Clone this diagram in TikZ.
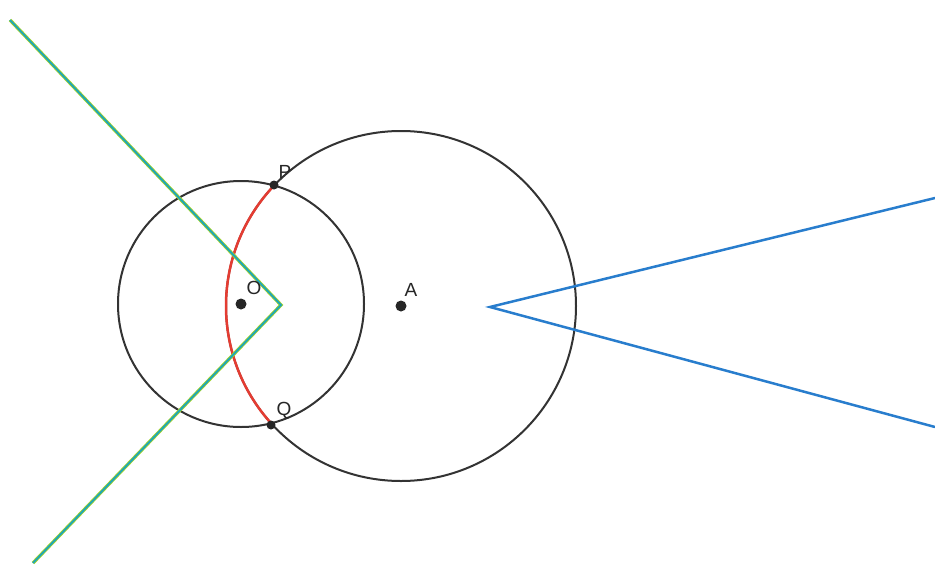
\documentclass[tikz,border=0pt]{standalone}
\usepackage{fontspec}
\setmainfont{Liberation Sans}
\begin{document}
\begin{tikzpicture}[x=1pt,y=1pt,
  circ/.style={draw=black!80, line width=2pt},
  dotpt/.style={circle, fill=black!85, inner sep=0pt, minimum size=11pt},
  lab/.style={font=\fontsize{19}{22}\selectfont, text=black!85},
  greenray/.style={draw={rgb,255:red,160;green,210;blue,40}, line width=3.4pt},
  tealray/.style={draw={rgb,255:red,30;green,165;blue,185}, line width=1.8pt},
  blueray/.style={draw={rgb,255:red,40;green,125;blue,205}, line width=2.5pt},
  redarc/.style={draw={rgb,255:red,228;green,60;blue,50}, line width=2.5pt}]
\useasboundingbox (0,0) rectangle (935,-568);
\fill[white] (0,0) rectangle (935,-568);
% centers
\coordinate (O) at (241,-304);
\coordinate (A) at (401,-306);
% circles
\draw[circ] (O) circle[radius=123];
\draw[circ] (A) circle[radius=175];
% red arc: part of big circle inside small circle
\begin{scope}
  \clip (O) circle[radius=123];
  \draw[redarc] (A) circle[radius=175];
\end{scope}
% green angle
\coordinate (V1) at (281,-305);
\coordinate (G1) at (10,-20);
\coordinate (G2) at (33,-563);
\draw[greenray, line join=miter] (G1) -- (V1) -- (G2);
\draw[tealray, line join=miter] (G1) -- (V1) -- (G2);
% blue angle
\coordinate (V2) at (490,-307);
\coordinate (B1) at (935,-198);
\coordinate (B2) at (935,-427);
\draw[blueray, line join=miter] (B1) -- (V2) -- (B2);
% points
\node[dotpt] (Od) at (O) {};
\node[dotpt] (Ad) at (A) {};
\node[dotpt, minimum size=9pt] (P) at (274,-185) {};
\node[dotpt, minimum size=9pt] (Q) at (271,-425) {};
\node[lab] (Ol) at (254,-288) {O};
\node[lab] (Al) at (411,-290) {A};
\node[lab] (Pl) at (285,-172) {P};
\node[lab] (Ql) at (284,-411) {Q};
\end{tikzpicture}
\end{document}
